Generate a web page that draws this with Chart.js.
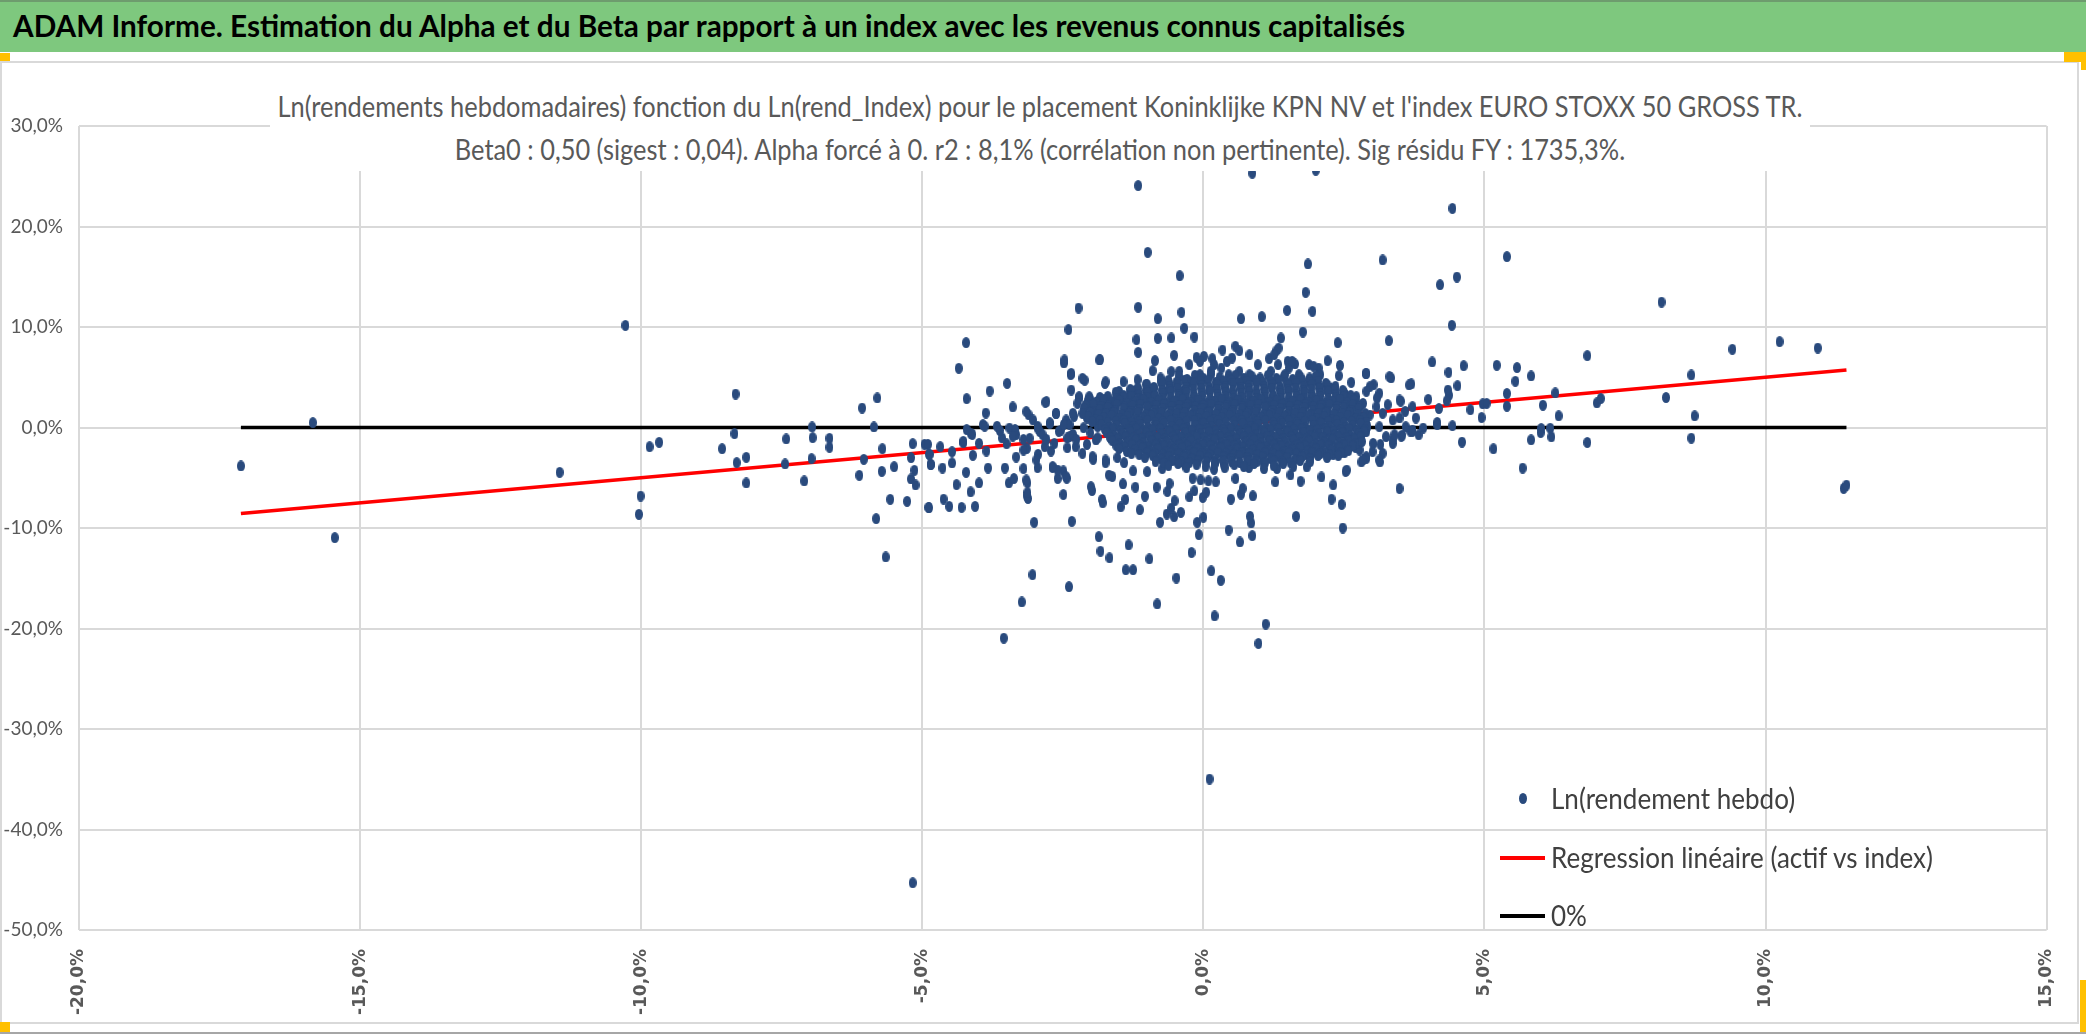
<!DOCTYPE html>
<html lang="fr">
<head>
<meta charset="utf-8">
<title>ADAM Informe - Alpha et Beta</title>
<script src="https://cdn.jsdelivr.net/npm/chart.js@4.4.1/dist/chart.umd.min.js"></script>
<style>
  html, body { margin: 0; padding: 0; background: #fff; }
  #page { position: relative; width: 2086px; height: 1035px; overflow: hidden; background: #fff; }
  #header { position: absolute; left: 0; top: 0; width: 2086px; height: 50px; background: #7ec87e; border-top: 2px solid #6e9c6e; }
  #headerText { position: absolute; left: 13px; top: 5px; font-family: Lato, sans-serif; font-weight: bold; font-size: 30px; color: #000; white-space: nowrap; transform-origin: left center; }
  #frame { position: absolute; left: 0; top: 61px; width: 2075px; height: 959px; border: 2px solid #d9d9d9; }
  #bottomLine { position: absolute; left: 0; top: 1032px; width: 2086px; height: 2px; background: #a6a6a6; }
  .handle { position: absolute; background: #ffc000; }
  #chart { position: absolute; left: 0; top: 0; }
  #title { position: absolute; left: 270px; top: 76px; width: 1540px; height: 95px; background: #fff; font-family: Lato, sans-serif; color: #595959; font-size: 29px; }
  .tline { position: absolute; left: 0; width: 1540px; height: 34px; }
  .tline span { position: absolute; left: 50%; top: 0; line-height: 34px; white-space: nowrap; }
  #legend { position: absolute; left: 1500px; top: 770px; font-family: Lato, sans-serif; color: #404040; font-size: 28px; }
  .lrow { position: absolute; left: 0; height: 40px; white-space: nowrap; }
  .lkey { position: absolute; left: 0; top: 0; width: 45px; height: 40px; }
  .ltxt { position: absolute; left: 51px; top: 2px; line-height: 34px; transform-origin: left center; }
</style>
</head>
<body>
<div id="page">
  <div id="header"><div id="headerText">ADAM Informe. Estimation du Alpha et du Beta par rapport à un index avec les revenus connus capitalisés</div></div>
  <div id="frame"></div>
  <div id="bottomLine"></div>
  <div class="handle" style="left:0;top:53px;width:10px;height:8px"></div>
  <div class="handle" style="left:2064px;top:52px;width:22px;height:10px"></div>
  <div class="handle" style="left:2081px;top:52px;width:5px;height:18px"></div>
  <div class="handle" style="left:0;top:1022px;width:10px;height:10px"></div>
  <div class="handle" style="left:2080px;top:980px;width:6px;height:52px"></div>
  <canvas id="chart" width="2086" height="1035"></canvas>
  <div id="title">
    <div class="tline" style="top:13px"><span id="t1">Ln(rendements hebdomadaires) fonction du Ln(rend_Index) pour le placement Koninklijke KPN NV et l'index EURO STOXX 50 GROSS TR.</span></div>
    <div class="tline" style="top:56px"><span id="t2">Beta0 : 0,50 (sigest : 0,04). Alpha forcé à 0. r2 : 8,1% (corrélation non pertinente). Sig résidu FY : 1735,3%.</span></div>
  </div>
  <div id="legend">
    <div class="lrow" style="top:9px"><div class="lkey"><div style="position:absolute;left:19px;top:14px;width:8px;height:11px;border-radius:50%;background:#294a7d"></div></div><span class="ltxt" id="l1">Ln(rendement hebdo)</span></div>
    <div class="lrow" style="top:68px"><div class="lkey"><div style="position:absolute;left:0;top:18px;width:45px;height:4px;background:#ff0000"></div></div><span class="ltxt" id="l2">Regression linéaire (actif vs index)</span></div>
    <div class="lrow" style="top:126px"><div class="lkey"><div style="position:absolute;left:0;top:18px;width:45px;height:4px;background:#000"></div></div><span class="ltxt" id="l3">0%</span></div>
  </div>
</div>
<script>
// weekly log returns, in %: [index, asset]
var farPoints = [
  [-17.12,-3.83],[-15.84,0.48],[-15.45,-10.96],[-11.45,-4.46],[-10.28,10.16],[-9.85,-1.91],[-9.68,-1.48],
  [-10.01,-6.82],[-10.04,-8.64],[-8.32,3.33],[-8.34,-0.61],[-8.56,-2.11],[-8.30,-3.50],[-8.13,-2.97],
  [-8.13,-5.52],[-7.42,-1.14],[-7.44,-3.63],[-7.10,-5.32],[-6.96,0.05],[-6.95,-1.01],[-6.97,-3.10],
  [-6.65,-1.08],[-6.65,-1.97],[-6.07,1.94],[-5.80,2.94],[-5.86,0.05],[-5.71,-2.11],[-6.04,-3.17],
  [-6.12,-4.76],[-5.72,-4.36],[-5.50,-3.90],[-5.57,-7.15],[-5.82,-9.07],[-5.65,-12.88],[-5.27,-7.35],
  [-5.17,-1.61],[-5.20,-3.00],[-5.14,-4.26],[-5.20,-5.12],[-5.12,-5.72],[-4.96,-1.67],[-4.88,-2.67],
  [-4.88,-7.98],[-4.85,-3.66],[-5.17,-45.3],[0.11,-34.98],
  [5.40,17.0],[8.15,12.48],[10.25,8.54],[10.93,7.91],[9.41,7.78],[6.83,7.15],[8.68,5.23],[8.23,2.98],
  [8.74,1.16],[8.68,-1.06],[11.39,-6.06],[11.44,-5.73],[7.0,2.45],[7.07,2.88],[6.83,-1.49],[6.26,3.44],
  [6.32,1.16],[6.04,2.22],[5.83,5.13],[5.58,5.96],[5.55,4.60],[5.22,6.19],[5.40,3.38],[5.40,2.12],
  [4.97,2.36],[5.04,2.40],[4.95,0.99],[4.37,3.21],[4.33,2.65],[4.19,1.89],[4.16,0.5],[5.16,-2.12],
  [5.68,-4.04],[5.83,-1.23],[6.01,-0.1],[6.0,-0.5],[6.19,-0.93],[6.17,-0.07]
];

var upperPoints = [
  [-1.16,24.07],[0.87,25.3],[2.0,25.6],[4.43,21.8],[-0.99,17.43],[-0.42,15.1],[1.86,16.27],[3.19,16.67],
  [1.82,13.45],[4.21,14.21],[4.51,14.97],[4.42,10.17],[-2.22,11.89],[-1.16,11.96],[-0.39,11.46],
  [1.94,11.56],[1.49,11.66],[1.04,11.03],[0.67,10.83],[-0.81,10.83],[-0.34,9.87],[-2.40,9.74],[1.77,9.5],
  [-4.22,8.44],[-1.19,8.74],[-0.81,8.87],[-0.57,8.91],[-0.16,9.0],[1.38,8.91],[2.39,8.44],[3.30,8.64],
  [-4.35,5.89],[-4.21,2.87],[-1.16,7.48],[-0.52,7.18],[-1.84,6.75],[-2.48,6.42],[-0.86,6.65],[-0.90,5.65],
  [-0.57,5.56],[-2.36,5.26],[-2.11,4.70],[-3.49,4.39],[-3.80,3.63],[-1.75,4.39],[-1.42,4.56],[-1.17,4.76],
  [-0.76,4.93],[0.34,7.71],[0.57,8.08],[0.64,7.64],[-0.12,6.98],[0.01,7.08],[0.16,6.85],[0.42,6.58],
  [0.97,6.25],[1.17,6.85],[1.30,7.64],[1.34,7.91],[1.50,6.58],[1.63,6.32],[1.88,6.25],[2.05,5.92],
  [2.21,6.65],[2.43,6.18],[2.41,5.16],[2.63,4.49],[2.89,5.36],[3.34,4.93],[4.07,6.52],[4.36,5.49],
  [4.63,6.15],[4.52,4.16],[3.70,4.33],[3.51,2.61],[4.0,2.8],[4.35,3.73],[3.03,4.26],[-3.39,2.04],
  [-3.87,1.44],[-2.81,2.51],[-3.11,1.28],[-2.62,1.38],[-2.30,1.11],[-2.22,2.87],[-2.02,2.87],[4.75,1.77],
  [4.43,0.18]
];

var lowerPoints = [
  [-3.55,-20.96],[0.98,-21.49],[1.11,-19.57],[0.20,-18.75],[-3.23,-17.36],[-0.82,-17.56],[-3.04,-14.65],
  [-2.39,-15.84],[0.14,-14.26],[0.31,-15.21],[-1.38,-14.16],[-1.25,-14.16],[-0.48,-14.98],[-1.86,-10.86],
  [-1.83,-12.31],[-1.67,-12.97],[-1.33,-11.68],[-0.96,-13.07],[-0.21,-12.44],[-0.08,-10.66],[0.65,-11.39],
  [0.45,-10.2],[0.87,-10.76],[0.85,-9.5],[0.83,-8.84],[2.48,-10.0],[2.46,-7.66],[2.28,-7.13],[1.65,-8.84],
  [3.49,-6.07],[4.60,-1.45],[-3.01,-9.44],[-2.34,-9.34],[-2.49,-6.67],[-3.14,-6.80],[-3.12,-7.06],
  [-4.89,-7.95],[-4.52,-7.85],[-4.30,-7.95],[-4.06,-7.85],[-4.62,-7.13],[-4.14,-6.40],[-3.99,-5.51],
  [-4.39,-5.68],[-3.53,-4.03],[-3.46,-5.51],[-3.37,-5.08],[-3.13,-5.51],[-3.83,-4.03],[-4.22,-4.46],
  [-4.47,-3.53],[-4.64,-4.03],[-4.85,-3.70],[-1.98,-6.27],[-1.80,-7.16],[-1.79,-7.49],[-1.47,-7.89],
  [-1.39,-7.16],[-1.13,-8.18],[-1.04,-6.83],[-1.21,-5.94],[-1.43,-5.61],[-1.62,-4.88],[-0.83,-5.94],
  [-0.77,-9.44],[-0.65,-8.61],[-0.52,-8.88],[-0.40,-8.45],[-0.57,-8.02],[-0.51,-7.29],[-0.64,-6.37],
  [-0.60,-5.58],[-0.25,-6.90],[-0.16,-6.30],[-0.01,-6.96],[0.05,-6.44],[-0.11,-9.44],[0.0,-8.94],
  [-0.19,-5.05],[-0.05,-5.21],[0.09,-5.31],[0.22,-5.41],[0.49,-7.13],[0.67,-6.63],[0.70,-6.07],
  [0.88,-6.80],[0.57,-5.08],[1.28,-5.41],[1.55,-4.72],[1.73,-5.35],[2.10,-4.92],[2.31,-5.71],[2.53,-4.36],
  [1.84,-3.93],[1.31,-4.09],[1.07,-3.53],[2.81,-3.43],[2.90,-3.07],[3.14,-3.43],[3.01,-2.41],[3.37,-1.58],
  [3.52,-0.86],[3.83,-0.73],[3.68,-0.36],[3.15,-1.68],[2.71,-2.01],[2.31,-2.67],[2.51,-2.51],[1.39,-3.0],
  [-2.59,-5.08],[-2.43,-5.05],[-2.49,-4.32],[-2.68,-3.99],[-2.95,-3.99],[-3.20,-4.09],[-3.13,-6.47],
  [-3.33,-2.94],[-4.10,-2.77],[-3.86,-2.34],[-4.47,-2.41],[-4.87,-2.67],[-4.68,-1.91],[-4.27,-1.52],
  [-3.99,-1.58],[-3.50,-1.62],[-3.14,-2.08],[-2.94,-2.67],[-2.71,-2.34],[-1.74,-3.50],[-1.96,-3.17],
  [-1.53,-3.00],[-1.25,-4.32],[-1.00,-4.39],[-1.41,-3.50],[-0.73,-4.09],[-0.33,-3.66],[0.19,-4.16],
  [0.36,-3.66],[0.81,-3.99]
];

var fringePoints = [
  [-3.15,1.58],[-2.79,2.57],[-3.03,0.75],[-2.73,0.41],[-2.91,-0.41],[-3.09,-1.08],[-3.2,-2.24],[-2.82,-1.91],
  [-2.65,-1.58],[-2.97,-3.23],[-3.15,-5.22],[-2.59,-4.23],[-2.44,-4.89],[-2.68,-3.9],[-2.62,1.41],[-2.44,0.75],
  [-2.32,1.41],[-2.53,-0.25],[-2.38,-0.91],[-2.27,-1.91],[-2.15,-2.57],[-2.35,5.39],[-2.15,4.89],[-2.35,3.73],
  [-2.21,3.07],[-2.03,3.07],[-2.24,2.4],[-2.0,2.07],[-1.94,1.08],[-1.88,0.08],[-1.91,-1.24],[-1.97,-2.9],
  [-1.74,-3.23],[-1.68,-4.73],[-2.0,-5.89],[-1.74,4.56],[-2.47,6.72],[-1.85,6.72],
  [2.9,5.39],[3.31,5.06],[3.66,4.23],[2.96,4.06],[3.13,3.4],[2.72,3.07],[2.84,2.4],[3.08,2.07],[3.49,2.74],
  [3.72,2.07],[3.19,1.41],[2.96,1.24],[2.66,1.08],[3.37,0.75],[3.6,0.08],[3.13,0.08],[2.9,-0.41],[3.25,-0.91],
  [3.54,-0.75],[2.72,-1.24],[3.02,-1.58],[3.37,-1.24],[2.78,-2.24],[3.19,-2.57],[2.9,-2.9],[3.13,-3.23],
  [2.55,-4.23],[2.84,-3.23],[2.61,-1.91],[3.49,0.95],[3.72,-0.25],
  [-4.27,-1.38],[-4.14,-0.55],[-3.92,0.28],[-3.67,0.12],[-3.45,-0.05],[-3.33,-0.71],[-3.58,-1.04],
  [-2.95,-0.05],[-2.86,-0.71],[-2.57,-0.38],[-2.38,0.28],[-2.42,-1.04],[-2.07,0.94],[-1.94,1.78],
  [-1.75,2.27],[-1.63,1.94],[-1.5,2.77],[-1.31,3.27],[-1.19,3.76],[-0.94,3.27],[-0.69,3.6],[-0.37,3.6],
  [-0.25,4.6],[-0.06,5.26],[0.13,5.59],[0.32,5.92],[0.45,5.26],[0.64,5.59],[0.82,5.26],[1.01,4.93],
  [1.2,5.59],[1.33,6.25],[1.52,5.92],[1.7,5.26],[1.89,4.93],[2.08,5.26],[2.27,3.93],[2.52,3.27],[2.71,2.61],
  [2.9,3.6],[3.09,2.94],[3.28,2.27],[3.59,1.61],[3.78,0.94],[3.91,-0.05],[4.16,0.28],[3.72,-0.38],[3.4,-0.71],
  [-0.25,6.25],[-0.06,6.58],[0.19,6.25],[0.51,6.91],[0.82,7.24],[1.26,7.24],[1.58,6.58],[1.96,6.09],
  [1.45,5.26],[-0.62,4.6],[-0.43,5.59],[-1.25,3.6],[-1.0,4.26],[-1.5,3.6],[-1.88,2.61],
  [-4.21,-0.2],[-4.11,-0.69],[-3.89,0.13],[-3.62,-0.3],[-3.35,-0.2],[-3.39,-0.86],[-3.2,-1.19],[-2.79,-1.19],
  [-2.95,0.13],[-2.73,0.46],[-2.48,0.3],[-2.32,-0.69],[-2.26,-1.19],[-2.42,-2.01],[-2.13,-0.03],[-2.01,-0.53],
  [-2.07,-1.68],[-1.88,-1.02],[-4.9,-1.68]
];

// the solid cloud around the origin, read row by row
var corePoints = [
  [-0.44,5.1],[-0.29,4.8],[-0.15,5.2],[0.0,4.9],[0.14,5.3],[0.29,5.0],[0.43,4.8],[0.57,5.2],[0.72,4.9],
  [0.86,5.1],[1.01,4.8],[1.15,5.2],[1.30,4.9],[1.44,5.1],[1.59,4.8],[1.73,5.0],[1.88,4.7],[2.0,5.1],
  [-0.76,4.6],[-0.62,4.7],[-0.48,4.5],[-0.34,4.7],[-0.20,4.5],[-0.06,4.6],[0.08,4.7],[0.22,4.5],[0.36,4.6],
  [0.50,4.7],[0.64,4.5],[0.78,4.6],[0.92,4.7],[1.06,4.5],[1.20,4.6],[1.34,4.7],[1.48,4.5],[1.62,4.6],
  [1.76,4.7],[1.90,4.5],[2.04,4.6],[2.18,4.4],
  [-1.02,4.3],[-0.88,4.0],[-0.73,4.4],[-0.59,4.1],[-0.45,4.3],[-0.31,4.0],[-0.17,4.4],[-0.03,4.2],[0.11,4.0],
  [0.25,4.3],[0.39,4.1],[0.53,4.4],[0.67,4.0],[0.81,4.2],[0.95,4.4],[1.09,4.1],[1.23,4.3],[1.37,4.0],
  [1.51,4.2],[1.65,4.4],[1.79,4.1],[1.93,4.3],[2.07,4.0],[2.21,4.2],[2.35,4.1],
  [-1.30,3.8],[-1.16,3.9],[-1.02,3.7],[-0.88,3.9],[-0.74,3.7],[-0.60,3.8],[-0.46,3.9],[-0.32,3.7],[-0.18,3.8],
  [-0.04,3.9],[0.10,3.7],[0.24,3.8],[0.38,3.9],[0.52,3.7],[0.66,3.8],[0.80,3.9],[0.94,3.7],[1.08,3.8],
  [1.22,3.9],[1.36,3.7],[1.50,3.8],[1.64,3.9],[1.78,3.7],[1.92,3.8],[2.06,3.9],[2.20,3.7],[2.34,3.8],[2.48,3.7],
  [-1.56,3.5],[-1.42,3.2],[-1.28,3.6],[-1.14,3.3],[-1.0,3.5],[-0.86,3.2],[-0.72,3.4],[-0.58,3.6],[-0.44,3.3],
  [-0.30,3.5],[-0.16,3.2],[-0.02,3.4],[0.12,3.6],[0.26,3.3],[0.40,3.5],[0.54,3.2],[0.68,3.4],[0.82,3.6],
  [0.96,3.3],[1.10,3.5],[1.24,3.2],[1.38,3.4],[1.52,3.6],[1.66,3.3],[1.80,3.5],[1.94,3.2],[2.08,3.4],
  [2.22,3.6],[2.36,3.3],[2.50,3.5],[2.62,3.2],
  [-1.84,3.0],[-1.70,3.1],[-1.56,2.9],[-1.42,3.0],[-1.28,3.1],[-1.14,2.9],[-1.00,3.0],[-0.86,3.1],[-0.72,2.9],
  [-0.58,3.0],[-0.44,3.1],[-0.30,2.9],[-0.16,3.0],[-0.02,3.1],[0.12,2.9],[0.26,3.0],[0.40,3.1],[0.54,2.9],
  [0.68,3.0],[0.82,3.1],[0.96,2.9],[1.10,3.0],[1.24,3.1],[1.38,2.9],[1.52,3.0],[1.66,3.1],[1.80,2.9],
  [1.94,3.0],[2.08,3.1],[2.22,2.9],[2.36,3.0],[2.50,3.1],[2.64,2.9],
  [-2.05,2.7],[-1.91,2.5],[-1.77,2.8],[-1.63,2.5],[-1.49,2.7],[-1.35,2.4],[-1.21,2.6],[-1.07,2.8],[-0.93,2.5],
  [-0.79,2.7],[-0.65,2.4],[-0.51,2.6],[-0.37,2.8],[-0.23,2.5],[-0.09,2.7],[0.05,2.4],[0.19,2.6],[0.33,2.8],
  [0.47,2.5],[0.61,2.7],[0.75,2.4],[0.89,2.6],[1.03,2.8],[1.17,2.5],[1.31,2.7],[1.45,2.4],[1.59,2.6],
  [1.73,2.8],[1.87,2.5],[2.01,2.7],[2.15,2.4],[2.29,2.6],[2.43,2.8],[2.57,2.5],[2.68,2.7],
  [-2.10,2.2],[-1.96,2.3],[-1.82,2.1],[-1.68,2.2],[-1.54,2.3],[-1.40,2.1],[-1.26,2.2],[-1.12,2.3],[-0.98,2.1],
  [-0.84,2.2],[-0.70,2.3],[-0.56,2.1],[-0.42,2.2],[-0.28,2.3],[-0.14,2.1],[0.0,2.2],[0.14,2.3],[0.28,2.1],
  [0.42,2.2],[0.56,2.3],[0.70,2.1],[0.84,2.2],[0.98,2.3],[1.12,2.1],[1.26,2.2],[1.40,2.3],[1.54,2.1],
  [1.68,2.2],[1.82,2.3],[1.96,2.1],[2.10,2.2],[2.24,2.3],[2.38,2.1],[2.52,2.2],[2.66,2.3],[2.78,2.1],
  [-2.12,1.9],[-1.98,1.6],[-1.84,1.8],[-1.70,2.0],[-1.56,1.7],[-1.42,1.9],[-1.28,1.6],[-1.14,1.8],[-1.00,2.0],
  [-0.86,1.7],[-0.72,1.9],[-0.58,1.6],[-0.44,1.8],[-0.30,2.0],[-0.16,1.7],[-0.02,1.9],[0.12,1.6],[0.26,1.8],
  [0.40,2.0],[0.54,1.7],[0.68,1.9],[0.82,1.6],[0.96,1.8],[1.10,2.0],[1.24,1.7],[1.38,1.9],[1.52,1.6],
  [1.66,1.8],[1.80,2.0],[1.94,1.7],[2.08,1.9],[2.22,1.6],[2.36,1.8],[2.50,2.0],[2.64,1.7],[2.76,1.9],
  [-2.15,1.4],[-2.01,1.5],[-1.87,1.3],[-1.73,1.4],[-1.59,1.5],[-1.45,1.3],[-1.31,1.4],[-1.17,1.5],[-1.03,1.3],
  [-0.89,1.4],[-0.75,1.5],[-0.61,1.3],[-0.47,1.4],[-0.33,1.5],[-0.19,1.3],[-0.05,1.4],[0.09,1.5],[0.23,1.3],
  [0.37,1.4],[0.51,1.5],[0.65,1.3],[0.79,1.4],[0.93,1.5],[1.07,1.3],[1.21,1.4],[1.35,1.5],[1.49,1.3],
  [1.63,1.4],[1.77,1.5],[1.91,1.3],[2.05,1.4],[2.19,1.5],[2.33,1.3],[2.47,1.4],[2.61,1.5],[2.75,1.3],[2.88,1.4],
  [-2.05,1.1],[-1.91,0.8],[-1.77,1.0],[-1.63,1.2],[-1.49,0.9],[-1.35,1.1],[-1.21,0.8],[-1.07,1.0],[-0.93,1.2],
  [-0.79,0.9],[-0.65,1.1],[-0.51,0.8],[-0.37,1.0],[-0.23,1.2],[-0.09,0.9],[0.05,1.1],[0.19,0.8],[0.33,1.0],
  [0.47,1.2],[0.61,0.9],[0.75,1.1],[0.89,0.8],[1.03,1.0],[1.17,1.2],[1.31,0.9],[1.45,1.1],[1.59,0.8],
  [1.73,1.0],[1.87,1.2],[2.01,0.9],[2.15,1.1],[2.29,0.8],[2.43,1.0],[2.57,1.2],[2.71,0.9],[2.85,1.0],
  [-1.98,0.6],[-1.84,0.7],[-1.70,0.5],[-1.56,0.6],[-1.42,0.7],[-1.28,0.5],[-1.14,0.6],[-1.00,0.7],[-0.86,0.5],
  [-0.72,0.6],[-0.58,0.7],[-0.44,0.5],[-0.30,0.6],[-0.16,0.7],[-0.02,0.5],[0.12,0.6],[0.26,0.7],[0.40,0.5],
  [0.54,0.6],[0.68,0.7],[0.82,0.5],[0.96,0.6],[1.10,0.7],[1.24,0.5],[1.38,0.6],[1.52,0.7],[1.66,0.5],
  [1.80,0.6],[1.94,0.7],[2.08,0.5],[2.22,0.6],[2.36,0.7],[2.50,0.5],[2.64,0.6],[2.78,0.7],[2.90,0.5],
  [-1.82,0.3],[-1.68,0.0],[-1.54,0.2],[-1.40,0.4],[-1.26,0.1],[-1.12,0.3],[-0.98,0.0],[-0.84,0.2],[-0.70,0.4],
  [-0.56,0.1],[-0.42,0.3],[-0.28,0.0],[-0.14,0.2],[0.0,0.4],[0.14,0.1],[0.28,0.3],[0.42,0.0],[0.56,0.2],
  [0.70,0.4],[0.84,0.1],[0.98,0.3],[1.12,0.0],[1.26,0.2],[1.40,0.4],[1.54,0.1],[1.68,0.3],[1.82,0.0],
  [1.96,0.2],[2.10,0.4],[2.24,0.1],[2.38,0.3],[2.52,0.0],[2.66,0.2],[2.80,0.4],[2.92,0.1],
  [-1.75,-0.2],[-1.61,-0.1],[-1.47,-0.3],[-1.33,-0.2],[-1.19,-0.1],[-1.05,-0.3],[-0.91,-0.2],[-0.77,-0.1],
  [-0.63,-0.3],[-0.49,-0.2],[-0.35,-0.1],[-0.21,-0.3],[-0.07,-0.2],[0.07,-0.1],[0.21,-0.3],[0.35,-0.2],
  [0.49,-0.1],[0.63,-0.3],[0.77,-0.2],[0.91,-0.1],[1.05,-0.3],[1.19,-0.2],[1.33,-0.1],[1.47,-0.3],
  [1.61,-0.2],[1.75,-0.1],[1.89,-0.3],[2.03,-0.2],[2.17,-0.1],[2.31,-0.3],[2.45,-0.2],[2.59,-0.1],
  [2.73,-0.3],[2.87,-0.2],
  [-1.72,-0.5],[-1.58,-0.8],[-1.44,-0.6],[-1.30,-0.4],[-1.16,-0.7],[-1.02,-0.5],[-0.88,-0.8],[-0.74,-0.6],
  [-0.60,-0.4],[-0.46,-0.7],[-0.32,-0.5],[-0.18,-0.8],[-0.04,-0.6],[0.10,-0.4],[0.24,-0.7],[0.38,-0.5],
  [0.52,-0.8],[0.66,-0.6],[0.80,-0.4],[0.94,-0.7],[1.08,-0.5],[1.22,-0.8],[1.36,-0.6],[1.50,-0.4],
  [1.64,-0.7],[1.78,-0.5],[1.92,-0.8],[2.06,-0.6],[2.20,-0.4],[2.34,-0.7],[2.48,-0.5],[2.62,-0.8],
  [2.76,-0.6],[2.86,-0.4],
  [-1.66,-1.0],[-1.52,-1.1],[-1.38,-0.9],[-1.24,-1.0],[-1.10,-1.1],[-0.96,-0.9],[-0.82,-1.0],[-0.68,-1.1],
  [-0.54,-0.9],[-0.40,-1.0],[-0.26,-1.1],[-0.12,-0.9],[0.02,-1.0],[0.16,-1.1],[0.30,-0.9],[0.44,-1.0],
  [0.58,-1.1],[0.72,-0.9],[0.86,-1.0],[1.00,-1.1],[1.14,-0.9],[1.28,-1.0],[1.42,-1.1],[1.56,-0.9],
  [1.70,-1.0],[1.84,-1.1],[1.98,-0.9],[2.12,-1.0],[2.26,-1.1],[2.40,-0.9],[2.54,-1.0],[2.68,-1.1],[2.80,-0.9],
  [-1.62,-1.3],[-1.48,-1.6],[-1.34,-1.4],[-1.20,-1.2],[-1.06,-1.5],[-0.92,-1.3],[-0.78,-1.6],[-0.64,-1.4],
  [-0.50,-1.2],[-0.36,-1.5],[-0.22,-1.3],[-0.08,-1.6],[0.06,-1.4],[0.20,-1.2],[0.34,-1.5],[0.48,-1.3],
  [0.62,-1.6],[0.76,-1.4],[0.90,-1.2],[1.04,-1.5],[1.18,-1.3],[1.32,-1.6],[1.46,-1.4],[1.60,-1.2],
  [1.74,-1.5],[1.88,-1.3],[2.02,-1.6],[2.16,-1.4],[2.30,-1.2],[2.44,-1.5],[2.58,-1.3],[2.72,-1.6],[2.82,-1.4],
  [-1.55,-1.8],[-1.41,-1.9],[-1.27,-1.7],[-1.13,-1.8],[-0.99,-1.9],[-0.85,-1.7],[-0.71,-1.8],[-0.57,-1.9],
  [-0.43,-1.7],[-0.29,-1.8],[-0.15,-1.9],[-0.01,-1.7],[0.13,-1.8],[0.27,-1.9],[0.41,-1.7],[0.55,-1.8],
  [0.69,-1.9],[0.83,-1.7],[0.97,-1.8],[1.11,-1.9],[1.25,-1.7],[1.39,-1.8],[1.53,-1.9],[1.67,-1.7],
  [1.81,-1.8],[1.95,-1.9],[2.09,-1.7],[2.23,-1.8],[2.37,-1.9],[2.51,-1.7],[2.66,-1.8],
  [-1.50,-2.1],[-1.36,-2.4],[-1.22,-2.2],[-1.08,-2.0],[-0.94,-2.3],[-0.80,-2.1],[-0.66,-2.4],[-0.52,-2.2],
  [-0.38,-2.0],[-0.24,-2.3],[-0.10,-2.1],[0.04,-2.4],[0.18,-2.2],[0.32,-2.0],[0.46,-2.3],[0.60,-2.1],
  [0.74,-2.4],[0.88,-2.2],[1.02,-2.0],[1.16,-2.3],[1.30,-2.1],[1.44,-2.4],[1.58,-2.2],[1.72,-2.0],
  [1.86,-2.3],[2.00,-2.1],[2.14,-2.4],[2.28,-2.2],[2.42,-2.0],[2.58,-2.3],
  [-1.28,-2.6],[-1.14,-2.7],[-1.00,-2.5],[-0.86,-2.6],[-0.72,-2.7],[-0.58,-2.5],[-0.44,-2.6],[-0.30,-2.7],
  [-0.16,-2.5],[-0.02,-2.6],[0.12,-2.7],[0.26,-2.5],[0.40,-2.6],[0.54,-2.7],[0.68,-2.5],[0.82,-2.6],
  [0.96,-2.7],[1.10,-2.5],[1.24,-2.6],[1.38,-2.7],[1.52,-2.5],[1.66,-2.6],[1.80,-2.7],[1.94,-2.5],
  [2.08,-2.6],[2.24,-2.7],[2.45,-2.5],
  [-1.04,-3.0],[-0.90,-2.8],[-0.76,-3.1],[-0.62,-2.9],[-0.48,-3.2],[-0.34,-2.9],[-0.20,-3.1],[-0.06,-2.8],
  [0.08,-3.0],[0.22,-3.2],[0.36,-2.9],[0.50,-3.1],[0.64,-2.8],[0.78,-3.0],[0.92,-3.2],[1.06,-2.9],
  [1.20,-3.1],[1.34,-2.8],[1.48,-3.0],[1.62,-3.2],[1.76,-2.9],[1.90,-3.1],[2.04,-2.8],[2.20,-3.0],[2.40,-2.8],
  [-0.85,-3.4],[-0.70,-3.5],[-0.55,-3.3],[-0.40,-3.4],[-0.25,-3.5],[-0.10,-3.3],[0.05,-3.4],[0.20,-3.5],
  [0.35,-3.3],[0.50,-3.4],[0.65,-3.5],[0.80,-3.3],[0.95,-3.4],[1.10,-3.5],[1.25,-3.3],[1.40,-3.4],
  [1.55,-3.5],[1.72,-3.3],[1.90,-3.4],
  [-0.62,-3.8],[-0.45,-3.6],[-0.30,-4.0],[-0.12,-3.7],[0.04,-3.9],[0.2,-3.6],[0.38,-4.0],[0.55,-3.7],
  [0.72,-3.9],[0.9,-3.6],[1.08,-4.1],[1.25,-3.8],[1.42,-3.6],[1.6,-3.9]
];

var beta = 0.50;
var xTickStep = 5, xMin = -20, xMax = 15;
var yTickStep = 10, yMin = -50, yMax = 30;

var allPoints = farPoints.concat(upperPoints, lowerPoints, fringePoints, corePoints);
var scatterData = allPoints.map(function (p) { return { x: p[0], y: p[1] }; });
var xs = allPoints.map(function (p) { return p[0]; });
var lo = Math.min.apply(null, xs), hi = Math.max.apply(null, xs);

function pct(v) { return v.toFixed(1).replace('.', ',') + '%'; }

// vertical ellipse marker like the original
function makeDot(w, h, color) {
  var c = document.createElement('canvas');
  c.width = w; c.height = h;
  var g = c.getContext('2d');
  g.fillStyle = color;
  g.beginPath();
  g.ellipse(w / 2, h / 2, w / 2, h / 2, 0, 0, Math.PI * 2);
  g.fill();
  return c;
}
var dot = makeDot(8, 11, '#294a7d');

var gridOpts = { color: '#d9d9d9', lineWidth: 2, drawTicks: false };

new Chart(document.getElementById('chart'), {
  type: 'scatter',
  data: {
    datasets: [
      {
        label: 'Ln(rendement hebdo)',
        data: scatterData,
        pointStyle: dot,
        pointRadius: 5,
        order: 0
      },
      {
        label: 'Regression linéaire (actif vs index)',
        data: [{ x: lo, y: beta * lo }, { x: hi, y: beta * hi }],
        showLine: true,
        borderColor: '#ff0000',
        borderWidth: 3.5,
        pointRadius: 0,
        order: 1
      },
      {
        label: '0%',
        data: [{ x: lo, y: 0 }, { x: hi, y: 0 }],
        showLine: true,
        borderColor: '#000000',
        borderWidth: 3.5,
        pointRadius: 0,
        order: 2
      }
    ]
  },
  options: {
    responsive: false,
    animation: false,
    layout: { padding: { top: 126, right: 20, left: 0, bottom: 0 } },
    plugins: {
      legend: { display: false },
      title: { display: false },
      tooltip: { enabled: false }
    },
    scales: {
      x: {
        type: 'linear',
        min: xMin, max: xMax,
        grid: gridOpts,
        border: { display: false },
        ticks: {
          stepSize: xTickStep,
          autoSkip: false,
          minRotation: 90, maxRotation: 90,
          padding: 19,
          color: '#595959',
          font: { family: 'DejaVu Sans', size: 17, weight: 'bold' },
          callback: function (v) { return pct(v); }
        },
        afterFit: function (s) { s.height = 105; }
      },
      y: {
        min: yMin, max: yMax,
        grid: gridOpts,
        border: { display: false },
        ticks: {
          stepSize: yTickStep,
          padding: 16,
          color: '#595959',
          font: { family: 'Lato', size: 19 },
          callback: function (v) { return pct(v); }
        },
        afterFit: function (s) { s.width = 79; }
      }
    }
  }
});

// stretch overlay texts to the widths they have in the original
function fit(el, target, origin, pre) {
  var w = el.getBoundingClientRect().width;
  var k = target / w;
  el.style.transformOrigin = origin;
  el.style.transform = (pre || '') + 'scaleX(' + k + ')';
  return k;
}
fit(document.getElementById('headerText'), 1392, 'left center');
var k = fit(document.getElementById('t1'), 1525, 'center center', 'translateX(-50%) ');
var t2 = document.getElementById('t2');
t2.style.transformOrigin = 'center center';
t2.style.transform = 'translateX(-50%) scaleX(' + k + ')';
var kl = fit(document.getElementById('l2'), 382, 'left center');
['l1', 'l3'].forEach(function (id) {
  var e = document.getElementById(id);
  e.style.transformOrigin = 'left center';
  e.style.transform = 'scaleX(' + kl + ')';
});
</script>
</body>
</html>
